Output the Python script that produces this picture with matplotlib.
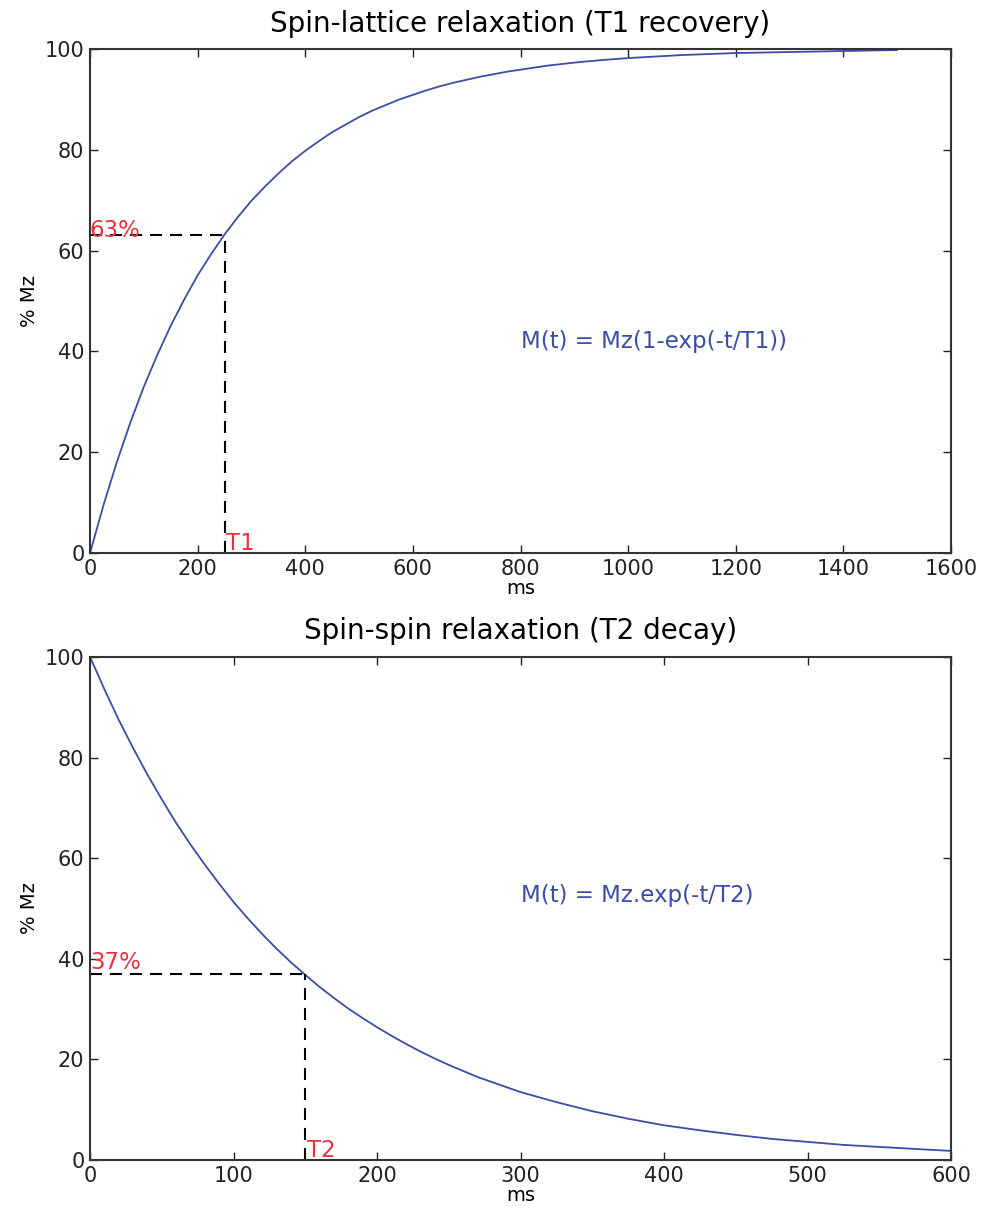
import numpy as np
import matplotlib
matplotlib.use("Agg")
import matplotlib.pyplot as plt

# === Data ===
# T1 recovery curve (% Mz vs ms)
t1_time = [0, 25, 50, 75, 100, 125, 150, 175, 200, 225, 250, 275, 300, 325, 350, 375,
           400, 425, 450, 475, 500, 525, 550, 575, 600, 625, 650, 675, 700, 725, 750, 775,
           800, 850, 900, 950, 1000, 1050, 1100, 1150, 1200, 1300, 1400, 1500]
t1_mz = [0.0, 9.5, 18.1, 25.9, 33.0, 39.3, 45.1, 50.3, 55.1, 59.3, 63.2, 66.7, 69.9, 72.7, 75.3, 77.7,
         79.8, 81.7, 83.5, 85.0, 86.5, 87.8, 88.9, 90.0, 90.9, 91.8, 92.6, 93.3, 93.9, 94.5, 95.0, 95.5,
         95.9, 96.7, 97.3, 97.8, 98.2, 98.5, 98.8, 99.0, 99.2, 99.4, 99.6, 99.8]
t1_mark = 250
t1_level = 63

# T2 decay curve (% Mz vs ms)
t2_time = [0, 10, 20, 30, 40, 50, 60, 70, 80, 90, 100, 110, 120, 130, 140, 150, 160, 170,
           180, 190, 200, 210, 220, 230, 240, 250, 260, 270, 280, 290, 300,
           325, 350, 375, 400, 425, 450, 475, 500, 525, 550, 575, 600]
t2_mz = [100.0, 93.6, 87.5, 81.9, 76.6, 71.7, 67.0, 62.7, 58.7, 54.9, 51.3, 48.0, 44.9, 42.0,
         39.3, 36.8, 34.4, 32.2, 30.1, 28.2, 26.4, 24.7, 23.1, 21.6, 20.2, 18.9, 17.7, 16.5,
         15.5, 14.5, 13.5, 11.5, 9.7, 8.2, 6.9, 5.9, 5.0, 4.2, 3.6, 3.0, 2.6, 2.2, 1.8]
t2_mark = 150
t2_level = 37

curve_color = "#3a4ea8"
label_red = "#e8323c"
dash = (5.8, 3.8)

plt.rcParams["font.family"] = "DejaVu Sans"

fig = plt.figure(figsize=(9.84, 12.13), dpi=100)
ax1 = fig.add_axes([0.0915, 0.5441, 0.875, 0.4155])
ax2 = fig.add_axes([0.0915, 0.0437, 0.875, 0.4147])


def style_axes(ax):
    ax.tick_params(direction="in", top=True, right=True, length=6, width=1,
                   labelsize=15, pad=4, colors="#222222")
    for s in ax.spines.values():
        s.set_linewidth(1.5)
        s.set_color("#333333")


# --- Top: T1 recovery ---
ax1.plot(t1_time, t1_mz, color=curve_color, lw=1.3)
ax1.plot([0, t1_mark], [t1_level, t1_level], color="black", lw=1.5, dashes=dash)
ax1.plot([t1_mark, t1_mark], [0, t1_level], color="black", lw=1.5, dashes=dash)
ax1.text(-1, t1_level - 0.3, "63%", color=label_red, fontsize=16.5)
ax1.text(t1_mark + 3, 0.6, "T1", color=label_red, fontsize=16.5)
ax1.text(800, 42, "M(t) = Mz(1-exp(-t/T1))", color=curve_color, fontsize=16.5, va="center")
ax1.set_xlim(0, 1600)
ax1.set_ylim(0, 100)
ax1.set_xticks(np.arange(0, 1601, 200))
ax1.set_yticks(np.arange(0, 101, 20))
ax1.set_title("Spin-lattice relaxation (T1 recovery)", fontsize=20, pad=12)
ax1.set_xlabel("ms", fontsize=14, labelpad=0)
ax1.set_ylabel("% Mz", fontsize=14)
style_axes(ax1)

# --- Bottom: T2 decay ---
ax2.plot(t2_time, t2_mz, color=curve_color, lw=1.3)
ax2.plot([0, t2_mark], [t2_level, t2_level], color="black", lw=1.5, dashes=dash)
ax2.plot([t2_mark, t2_mark], [0, t2_level], color="black", lw=1.5, dashes=dash)
ax2.text(0, t2_level + 0.9, "37%", color=label_red, fontsize=16.5)
ax2.text(t2_mark + 1, 0.6, "T2", color=label_red, fontsize=16.5)
ax2.text(300, 52.5, "M(t) = Mz.exp(-t/T2)", color=curve_color, fontsize=16.5, va="center")
ax2.set_xlim(0, 600)
ax2.set_ylim(0, 100)
ax2.set_xticks(np.arange(0, 601, 100))
ax2.set_yticks(np.arange(0, 101, 20))
ax2.set_title("Spin-spin relaxation (T2 decay)", fontsize=20, pad=13)
ax2.set_xlabel("ms", fontsize=14, labelpad=0)
ax2.set_ylabel("% Mz", fontsize=14)
style_axes(ax2)

fig.savefig("out.png", dpi=100, facecolor="white")
